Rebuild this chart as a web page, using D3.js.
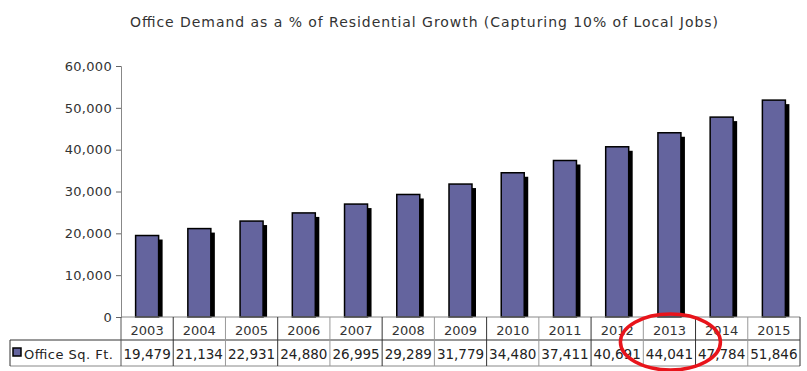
<!DOCTYPE html>
<html>
<head>
<meta charset="utf-8">
<script src="https://cdn.jsdelivr.net/npm/d3@7"></script>
<style>
  body { margin: 0; background: #fff; }
  svg { display: block; font-family: "DejaVu Sans", Verdana, sans-serif; }
</style>
</head>
<body>
<div id="chart"></div>
<script>
// data
const years = ["2003","2004","2005","2006","2007","2008","2009","2010","2011","2012","2013","2014","2015"];
const officeSqFt = [19479,21134,22931,24880,26995,29289,31779,34480,37411,40691,44041,47784,51846];
const yTicks = [0,10000,20000,30000,40000,50000,60000];
const seriesName = "Office Sq. Ft.";
const title = "Office Demand as a % of Residential Growth (Capturing 10% of Local Jobs)";

(function() {
  const width = 807, height = 371;
  const barColor = "#64649e";

  const svg = d3.select("#chart").append("svg")
    .attr("width", width)
    .attr("height", height);

  const x = d3.scaleBand().domain(years).range([121, 800]).padding(0);
  const y = d3.scaleLinear().domain([0, 60000]).range([317, 66]);

  // title
  svg.append("text")
    .attr("x", 424).attr("y", 27)
    .attr("text-anchor", "middle")
    .attr("textLength", 588)
    .attr("lengthAdjust", "spacing")
    .style("font-size", "14px")
    .style("fill", "#333")
    .text(title);

  // y axis
  const yAxis = svg.append("g")
    .attr("transform", "translate(121,0)")
    .call(d3.axisLeft(y).tickValues(yTicks).tickSize(5).tickPadding(4)
      .tickFormat(d3.format(",")));
  yAxis.select(".domain").attr("stroke", "#888");
  yAxis.selectAll(".tick line").attr("stroke", "#666");
  yAxis.selectAll(".tick text")
    .style("font-size", "13px")
    .style("letter-spacing", "0.3px")
    .style("fill", "#333")
    .style("font-family", "'DejaVu Sans', Verdana, sans-serif");

  // bars with black drop shadow
  const bw = 23, off = 4;
  const bars = svg.append("g").selectAll("g")
    .data(years.map((yr, i) => ({ yr, v: officeSqFt[i] })))
    .join("g");

  bars.append("rect")
    .attr("x", d => x(d.yr) + x.bandwidth() / 2 - bw / 2 + off)
    .attr("y", d => y(d.v) + off)
    .attr("width", bw)
    .attr("height", d => y(0) - y(d.v) - off)
    .attr("fill", "#000");

  bars.append("rect")
    .attr("x", d => x(d.yr) + x.bandwidth() / 2 - bw / 2)
    .attr("y", d => y(d.v))
    .attr("width", bw)
    .attr("height", d => y(0) - y(d.v))
    .attr("fill", barColor)
    .attr("stroke", "#000")
    .attr("stroke-width", 1.5);

  // data table
  const t = svg.append("g");
  const row1Top = 317, row1Bot = 340, row2Bot = 366, tableLeft = 10;

  t.append("line").attr("x1", 121).attr("x2", 800).attr("y1", row1Top).attr("y2", row1Top)
    .attr("stroke", "#888");
  t.append("line").attr("x1", tableLeft).attr("x2", 800).attr("y1", row1Bot).attr("y2", row1Bot)
    .attr("stroke", "#333");
  t.append("line").attr("x1", tableLeft).attr("x2", 800).attr("y1", row2Bot).attr("y2", row2Bot)
    .attr("stroke", "#888");
  t.append("line").attr("x1", tableLeft).attr("x2", tableLeft).attr("y1", row1Bot).attr("y2", row2Bot)
    .attr("stroke", "#333");
  t.append("line").attr("x1", 121).attr("x2", 121).attr("y1", row1Top).attr("y2", row2Bot)
    .attr("stroke", "#555");

  t.selectAll(".vsep")
    .data(years)
    .join("line")
    .attr("x1", d => x(d) + x.bandwidth())
    .attr("x2", d => x(d) + x.bandwidth())
    .attr("y1", row1Top).attr("y2", row2Bot)
    .attr("stroke", (d, i) => i % 2 ? "#999" : "#333");

  t.selectAll(".yr")
    .data(years)
    .join("text")
    .attr("x", d => x(d) + x.bandwidth() / 2)
    .attr("y", 335)
    .attr("text-anchor", "middle")
    .style("font-size", "13px")
    .style("fill", "#333")
    .text(d => d);

  t.selectAll(".val")
    .data(officeSqFt)
    .join("text")
    .attr("x", (d, i) => x(years[i]) + x.bandwidth() / 2)
    .attr("y", 359)
    .attr("text-anchor", "middle")
    .style("font-size", "13.5px")
    .style("fill", "#222")
    .text(d => d3.format(",")(d));

  // legend key + series label
  t.append("rect")
    .attr("x", 13).attr("y", 348).attr("width", 8).attr("height", 8)
    .attr("fill", barColor).attr("stroke", "#000").attr("stroke-width", 1.5);
  t.append("text")
    .attr("x", 24).attr("y", 359)
    .attr("textLength", 89)
    .attr("lengthAdjust", "spacing")
    .style("font-size", "13px")
    .style("fill", "#222")
    .text(seriesName);

  // red highlight ellipse around 2013
  const cx = x("2013") + x.bandwidth() / 2 + 1;
  svg.append("ellipse")
    .attr("cx", cx).attr("cy", 342)
    .attr("rx", 50).attr("ry", 28)
    .attr("fill", "none")
    .attr("stroke", "#e8141b")
    .attr("stroke-width", 3.5);
})();
</script>
</body>
</html>
